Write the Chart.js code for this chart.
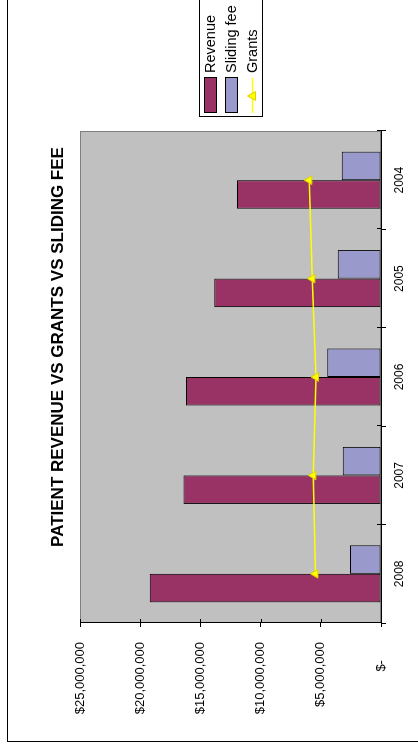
<!DOCTYPE html>
<html>
<head>
<meta charset="utf-8">
<script src="https://cdn.jsdelivr.net/npm/chart.js@4.4.1/dist/chart.umd.min.js"></script>
<style>
  html, body { margin: 0; padding: 0; background: #fff; width: 418px; height: 752px; overflow: hidden; }
  #wrap {
    position: absolute; left: 0; top: 0;
    width: 752px; height: 418px; overflow: hidden;
    transform-origin: 0 0;
    transform: translate(0, 752px) rotate(-90deg);
  }
  canvas { display: block; }
</style>
</head>
<body>
<div id="wrap"><canvas id="c" width="810" height="418"></canvas></div>
<script>
const categories = ['2008', '2007', '2006', '2005', '2004'];
const revenue = [19200000, 16400000, 16200000, 13850000, 11950000];
const slidingFee = [2570000, 3180000, 4460000, 3600000, 3260000];
const grants = [5450000, 5620000, 5400000, 5700000, 5950000];
const seriesNames = ['Revenue', 'Sliding fee', 'Grants'];
const valueMax = 25000000;
const valueStep = 5000000;

const FONT = '"Liberation Sans", Arial, Helvetica, sans-serif';

const decor = {
  id: 'decor',
  beforeDraw(chart) {
    const { ctx, chartArea: a } = chart;
    ctx.save();
    ctx.fillStyle = '#fff';
    ctx.fillRect(0, 0, chart.width, chart.height);
    ctx.strokeStyle = '#000';
    ctx.lineWidth = 1;
    ctx.strokeRect(10.5, 7.5, chart.width + 100, chart.height + 100);
    ctx.fillStyle = '#C0C0C0';
    ctx.fillRect(a.left, a.top, a.right - a.left, a.bottom - a.top);
    ctx.strokeStyle = '#808080';
    ctx.strokeRect(a.left + 0.5, a.top + 0.5, a.right - a.left - 1, a.bottom - a.top - 1);
    ctx.restore();
  },
  afterDatasetsDraw(chart) {
    const { ctx, chartArea: a, scales } = chart;
    ctx.save();
    ctx.strokeStyle = '#000';
    ctx.lineWidth = 1;
    // inner half of the crossing tick marks
    const xs = scales.x;
    for (let i = 0; i <= categories.length; i++) {
      const px = Math.round(xs.getPixelForValue(i - 0.5)) + 0.5;
      ctx.beginPath(); ctx.moveTo(px, a.bottom - 4); ctx.lineTo(px, a.bottom); ctx.stroke();
    }
    const ys = scales.y;
    ys.ticks.forEach(t => {
      const py = Math.round(ys.getPixelForValue(t.value)) + 0.5;
      ctx.beginPath(); ctx.moveTo(a.left, py); ctx.lineTo(a.left + 4, py); ctx.stroke();
    });
    ctx.restore();
  },
  afterDraw(chart) {
    const { ctx } = chart;
    const ds = chart.data.datasets;
    ctx.save();
    // legend box
    ctx.fillStyle = '#fff';
    ctx.fillRect(635.5, 199.5, 300, 63);
    ctx.strokeStyle = '#000';
    ctx.lineWidth = 1;
    ctx.strokeRect(635.5, 199.5, 300, 63);
    const rows = [210, 231, 252];
    ctx.font = '14.5px ' + FONT;
    ctx.textBaseline = 'middle';
    ctx.textAlign = 'left';
    ds.forEach((d, i) => {
      const cy = rows[i];
      if (d.type === 'line') {
        ctx.strokeStyle = d.borderColor;
        ctx.lineWidth = 1.5;
        ctx.beginPath(); ctx.moveTo(639, cy + 0.5); ctx.lineTo(674, cy + 0.5); ctx.stroke();
        ctx.fillStyle = d.pointBackgroundColor;
        ctx.strokeStyle = d.pointBorderColor;
        ctx.lineWidth = 1;
        ctx.beginPath();
        ctx.moveTo(656, cy - 4.5); ctx.lineTo(660.5, cy + 3.5); ctx.lineTo(651.5, cy + 3.5); ctx.closePath();
        ctx.fill(); ctx.stroke();
      } else {
        ctx.fillStyle = d.backgroundColor;
        ctx.fillRect(639, cy - 6, 35, 12);
        ctx.strokeStyle = '#000';
        ctx.lineWidth = 1;
        ctx.strokeRect(639.5, cy - 5.5, 35, 12);
      }
      ctx.fillStyle = '#000';
      ctx.fillText(d.label, 679, cy + 0.5);
    });
    ctx.restore();
  }
};

new Chart(document.getElementById('c'), {
  type: 'bar',
  data: {
    labels: categories,
    datasets: [
      {
        label: seriesNames[0], data: revenue, order: 1,
        backgroundColor: '#993366', borderColor: '#000', borderWidth: 1, borderSkipped: false,
        categoryPercentage: 0.58, barPercentage: 1.0
      },
      {
        label: seriesNames[1], data: slidingFee, order: 1,
        backgroundColor: '#9999CC', borderColor: '#000', borderWidth: 1, borderSkipped: false,
        categoryPercentage: 0.58, barPercentage: 1.0
      },
      {
        type: 'line', label: seriesNames[2], data: grants, order: 0,
        borderColor: '#FFFF00', borderWidth: 1.5, tension: 0,
        pointStyle: 'triangle', pointRadius: 5,
        pointBackgroundColor: '#FFFF00', pointBorderColor: '#E0D000', pointBorderWidth: 1,
        fill: false
      }
    ]
  },
  options: {
    responsive: false,
    animation: false,
    devicePixelRatio: 1,
    layout: { padding: 0 },
    plugins: {
      legend: { display: false },
      tooltip: { enabled: false },
      title: {
        display: true,
        text: 'PATIENT REVENUE VS GRANTS VS SLIDING FEE',
        color: '#000',
        font: { family: FONT, size: 17, weight: 'bold', lineHeight: 1.2 },
        padding: { top: 47.8, bottom: 11.8 }
      }
    },
    scales: {
      x: {
        type: 'category',
        offset: true,
        grid: { display: true, drawOnChartArea: false, drawTicks: true, tickLength: 5, color: '#000', offset: true },
        border: { display: true, color: '#000', width: 1 },
        ticks: { color: '#000', font: { family: FONT, size: 12 }, padding: 6, maxRotation: 0 },
        afterFit(s) { s.height = 37; }
      },
      y: {
        position: 'left',
        min: 0, max: valueMax,
        grid: { display: true, drawOnChartArea: false, drawTicks: true, tickLength: 4, color: '#000' },
        border: { display: true, color: '#000', width: 1 },
        ticks: {
          stepSize: valueStep,
          color: '#000',
          font: { family: FONT, size: 13 },
          padding: 15,
          callback: v => v === 0 ? '$-     ' : '$' + Number(v).toLocaleString('en-US')
        },
        afterFit(s) { s.width = 129; }
      },
      spacer: {
        type: 'linear',
        position: 'right',
        display: true,
        grid: { display: false },
        border: { display: false },
        ticks: { display: false },
        afterFit(s) { s.width = 189; }
      }
    }
  },
  plugins: [decor]
});
</script>
</body>
</html>
